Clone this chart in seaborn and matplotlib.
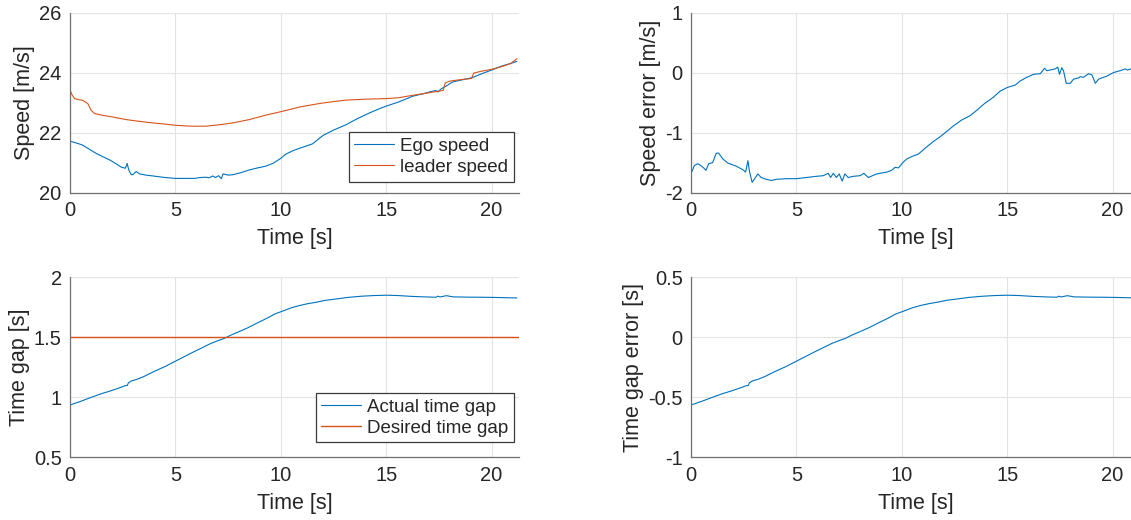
import numpy as np
import pandas as pd
import matplotlib
matplotlib.use("Agg")
import matplotlib.pyplot as plt
import seaborn as sns

# ---- measured signals -------------------------------------------------------
ego_t = [0.0, 0.3, 0.6, 0.9, 1.25, 1.6, 1.9, 2.2, 2.45, 2.63, 2.71, 2.79, 2.9, 2.97,
         3.14, 3.3, 3.6, 3.95, 4.5, 5.0, 5.5, 5.9, 6.2, 6.45, 6.6, 6.77, 6.9, 7.05,
         7.18, 7.26, 7.5, 7.71, 8.1, 8.5, 8.9, 9.3, 9.65, 10.0, 10.24, 10.6, 11.0,
         11.5, 12.0, 12.5, 13.1, 13.6, 14.2, 14.6, 15.0, 15.6, 16.26, 16.8, 17.1,
         17.36, 17.45, 17.6, 17.85, 18.14, 18.5, 19.09, 19.5, 20.03, 20.5, 20.9, 21.2]
ego_speed = [21.71, 21.65, 21.58, 21.45, 21.30, 21.18, 21.08, 20.95, 20.84, 20.81,
             20.97, 20.75, 20.60, 20.59, 20.70, 20.62, 20.58, 20.55, 20.50, 20.47,
             20.47, 20.47, 20.50, 20.51, 20.49, 20.55, 20.50, 20.56, 20.46, 20.62,
             20.58, 20.59, 20.66, 20.75, 20.82, 20.88, 20.98, 21.14, 21.28, 21.40,
             21.50, 21.62, 21.90, 22.08, 22.26, 22.45, 22.65, 22.77, 22.88, 23.02,
             23.21, 23.30, 23.36, 23.40, 23.35, 23.45, 23.55, 23.68, 23.74, 23.83,
             23.95, 24.09, 24.22, 24.30, 24.37]

leader_t = [0.0, 0.1, 0.22, 0.45, 0.61, 0.85, 1.0, 1.17, 1.5, 2.0, 2.67, 3.3, 3.93,
            4.5, 5.03, 5.5, 5.82, 6.45, 7.24, 7.8, 8.5, 9.3, 10.16, 10.9, 11.86,
            12.5, 13.1, 14.0, 15.0, 15.6, 16.26, 16.9, 17.5, 17.7, 17.8, 18.0, 18.5,
            19.05, 19.15, 19.5, 20.03, 20.5, 20.9, 21.1, 21.2]
leader_speed = [23.42, 23.25, 23.13, 23.09, 23.07, 22.96, 22.74, 22.63, 22.58, 22.52,
                22.43, 22.37, 22.32, 22.28, 22.24, 22.22, 22.21, 22.21, 22.27, 22.33,
                22.43, 22.58, 22.72, 22.85, 22.97, 23.03, 23.08, 23.11, 23.13, 23.16,
                23.24, 23.31, 23.38, 23.40, 23.65, 23.71, 23.76, 23.80, 23.98, 24.04,
                24.11, 24.20, 24.30, 24.40, 24.46]

err_t = [0.0, 0.16, 0.32, 0.5, 0.63, 0.71, 0.84, 1.03, 1.19, 1.3, 1.51, 1.75, 2.14,
         2.46, 2.59, 2.7, 2.78, 2.9, 3.02, 3.17, 3.33, 3.57, 3.81, 4.05, 4.52, 5.0,
         5.48, 5.95, 6.27, 6.51, 6.62, 6.75, 6.9, 7.03, 7.17, 7.3, 7.46, 7.7, 8.02,
         8.2, 8.41, 8.81, 9.29, 9.52, 9.68, 9.84, 10.08, 10.24, 10.55, 10.79, 11.11,
         11.5, 11.82, 12.14, 12.45, 12.85, 13.24, 13.56, 13.88, 14.35, 14.67, 15.0,
         15.38, 15.62, 15.93, 16.25, 16.57, 16.77, 16.88, 17.28, 17.4, 17.48, 17.59,
         17.67, 17.8, 17.99, 18.15, 18.39, 18.46, 18.62, 18.86, 19.02, 19.18, 19.34,
         19.73, 20.05, 20.36, 20.6, 20.7, 20.87, 21.2]
speed_error = [-1.69, -1.55, -1.52, -1.56, -1.60, -1.63, -1.52, -1.50, -1.35, -1.34,
               -1.44, -1.51, -1.56, -1.62, -1.66, -1.47, -1.66, -1.83, -1.77, -1.69,
               -1.75, -1.78, -1.80, -1.78, -1.77, -1.77, -1.75, -1.73, -1.72, -1.68,
               -1.75, -1.68, -1.75, -1.69, -1.81, -1.69, -1.75, -1.73, -1.72, -1.68,
               -1.75, -1.69, -1.66, -1.63, -1.58, -1.59, -1.49, -1.44, -1.39, -1.36,
               -1.26, -1.15, -1.07, -0.98, -0.89, -0.79, -0.72, -0.63, -0.53, -0.41,
               -0.31, -0.25, -0.21, -0.14, -0.08, -0.03, -0.02, 0.07, 0.03, 0.06,
               0.09, -0.03, 0.08, 0.03, -0.18, -0.18, -0.11, -0.09, -0.07, -0.08,
               -0.02, -0.04, -0.18, -0.11, -0.06, 0.00, 0.03, 0.06, 0.04, 0.06, 0.05]

gap_t = [0.0, 0.5, 1.07, 1.5, 1.88, 2.3, 2.6, 2.72, 2.77, 2.92, 3.16, 3.5, 3.96, 4.5,
         5.0, 5.5, 5.88, 6.3, 6.68, 7.0, 7.32, 7.64, 8.0, 8.44, 8.9, 9.4, 9.72, 10.13,
         10.5, 10.86, 11.3, 11.67, 12.15, 12.65, 13.2, 13.79, 14.4, 15.0, 15.57,
         16.22, 16.8, 17.36, 17.45, 17.55, 17.85, 18.18, 18.8, 19.48, 20.0, 20.46, 21.2]
time_gap = [0.935, 0.965, 1.003, 1.03, 1.05, 1.075, 1.095, 1.098, 1.12, 1.136, 1.148,
            1.172, 1.212, 1.255, 1.30, 1.345, 1.379, 1.415, 1.448, 1.47, 1.49, 1.518,
            1.545, 1.579, 1.62, 1.663, 1.694, 1.72, 1.745, 1.763, 1.78, 1.791, 1.808,
            1.819, 1.832, 1.841, 1.847, 1.850, 1.847, 1.840, 1.836, 1.833, 1.842,
            1.835, 1.846, 1.836, 1.834, 1.833, 1.832, 1.830, 1.827]
desired_gap = 1.5

x_ticks = [0, 5, 10, 15, 20]
x_max = 21.3

# ---- styling ------------------------------------------------------------------
sns.set_style("white")
plt.rcParams["font.family"] = ["Liberation Sans", "DejaVu Sans"]

BLUE = "#0072BD"
ORANGE = "#D95319"
TEXT = "#262626"
AXIS = "#707070"
GRID = "#e3e3e3"

fig = plt.figure(figsize=(11.31, 5.2), dpi=100)
W, H = 1131, 520
ax_w, ax_h = 449 / W, 180 / H
left_x, right_x = 70 / W, 691 / W
top_y, bot_y = 1 - 192.5 / H, 1 - 457.2 / H

ax_speed = fig.add_axes([left_x, top_y, ax_w, ax_h])
ax_serr = fig.add_axes([right_x, top_y, ax_w, ax_h])
ax_gap = fig.add_axes([left_x, bot_y, ax_w, ax_h])
ax_gerr = fig.add_axes([right_x, bot_y, ax_w, ax_h])

LW = 0.8

speed_df = pd.DataFrame({"t": ego_t, "v": ego_speed})
leader_df = pd.DataFrame({"t": leader_t, "v": leader_speed})
sns.lineplot(data=speed_df, x="t", y="v", ax=ax_speed, color=BLUE, lw=LW,
             label="Ego speed", sort=False)
sns.lineplot(data=leader_df, x="t", y="v", ax=ax_speed, color=ORANGE, lw=LW,
             label="leader speed", sort=False)

sns.lineplot(x=err_t, y=speed_error, ax=ax_serr, color=BLUE, lw=LW, sort=False)

gap_arr = np.asarray(time_gap)
sns.lineplot(x=gap_t, y=gap_arr, ax=ax_gap, color=BLUE, lw=LW,
             label="Actual time gap", sort=False)
sns.lineplot(x=[0, x_max], y=[desired_gap, desired_gap], ax=ax_gap, color=ORANGE,
             lw=1.0, label="Desired time gap", sort=False)

sns.lineplot(x=gap_t, y=gap_arr - desired_gap, ax=ax_gerr, color=BLUE, lw=LW,
             sort=False)

panels = [
    (ax_speed, (20, 26), [20, 22, 24, 26], "Speed [m/s]"),
    (ax_serr, (-2, 1), [-2, -1, 0, 1], "Speed error [m/s]"),
    (ax_gap, (0.5, 2), [0.5, 1, 1.5, 2], "Time gap [s]"),
    (ax_gerr, (-1, 0.5), [-1, -0.5, 0, 0.5], "Time gap error [s]"),
]
for ax, ylim, yticks, ylabel in panels:
    ax.set_xlim(0, x_max)
    ax.set_ylim(*ylim)
    ax.set_xticks(x_ticks)
    ax.set_yticks(yticks)
    ax.set_yticklabels([f"{v:g}" for v in yticks])
    ax.set_xlabel("Time [s]", fontsize=15.5, color=TEXT, labelpad=6)
    ax.set_ylabel(ylabel, fontsize=15.5, color=TEXT, labelpad=3)
    ax.grid(True, color=GRID, lw=0.8)
    ax.set_axisbelow(True)
    for side in ("top", "right"):
        ax.spines[side].set_visible(False)
    for side in ("left", "bottom"):
        ax.spines[side].set_color(AXIS)
        ax.spines[side].set_linewidth(0.9)
    ax.tick_params(direction="in", length=3, width=0.8, color=AXIS,
                   labelsize=14.5, labelcolor=TEXT, pad=6)

for ax, leg_bottom in ((ax_speed, 11), (ax_gap, 15)):
    leg = ax.legend(loc="lower right",
                    bbox_to_anchor=(1 - 5 / 449, leg_bottom / 180),
                    borderaxespad=0, fontsize=13.5, frameon=True, fancybox=False,
                    edgecolor="#3a3a3a", framealpha=1, handlelength=2.1,
                    handletextpad=0.35, labelspacing=0.2, borderpad=0.3)
    leg.get_frame().set_linewidth(0.9)
    for txt in leg.get_texts():
        txt.set_color(TEXT)

fig.savefig("out.png", dpi=100)
